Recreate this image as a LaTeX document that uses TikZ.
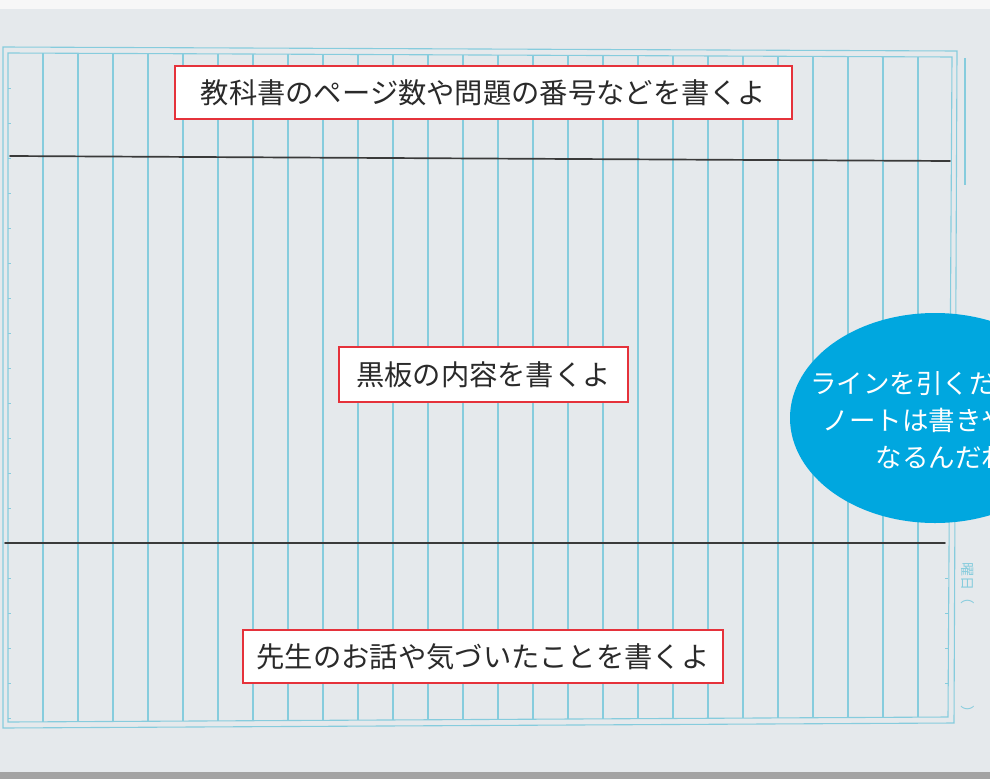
\documentclass[tikz,border=0pt]{standalone}
\usepackage{fontspec}
\newfontfamily\jp{Noto Sans CJK JP}
\definecolor{paper}{HTML}{E5E9EC}
\definecolor{topwhite}{HTML}{F7F7F7}
\definecolor{bottomgray}{HTML}{A3A3A3}
\definecolor{gridblue}{HTML}{86CCDD}
\definecolor{pencilgray}{HTML}{3A3A3A}
\definecolor{boxred}{HTML}{E5323B}
\definecolor{textdark}{HTML}{2A2A2A}
\definecolor{bubble}{HTML}{00A7DF}
\begin{document}
\begin{tikzpicture}[x=1pt,y=-1pt,
  grid/.style={draw=gridblue,line width=1.1pt},
  pencil/.style={draw=pencilgray,line width=1.7pt,line cap=round},
  labelbox/.style={draw=boxred,line width=1.4pt,fill=white,inner sep=0pt,text=textdark,
    font=\jp\fontsize{28.3}{32}\selectfont},
  smalltext/.style={text=gridblue,inner sep=0pt,rotate=-90,font=\jp\fontsize{14}{14}\selectfont}
]
\clip (0,0) rectangle (990,779);
\fill[paper] (0,0) rectangle (990,779);
\fill[topwhite] (0,0) rectangle (990,9);
\fill[bottomgray] (0,772) rectangle (990,779);

% frames
\draw[grid] (3,47) -- (957,51) -- (954,723) -- (3,728) -- cycle;
\draw[grid] (8,53) -- (952,57) -- (948,717) -- (8,722) -- cycle;
\draw[grid] (965,58) -- (965,185);

% vertical lines
\foreach \k in {0,...,25}{
  \pgfmathsetmacro{\xx}{43+35*\k}
  \pgfmathsetmacro{\yt}{53+4*(\xx-8)/944}
  \pgfmathsetmacro{\yb}{722-5*(\xx-8)/940}
  \draw[grid] (\xx,\yt) -- (\xx,\yb);
}

% small ticks on the frame
\foreach \k in {0,...,18}{
  \pgfmathsetmacro{\yy}{88+35*\k}
  \draw[gridblue,line width=0.8pt] (8,\yy) -- (11,\yy);
}
\foreach \k in {0,...,3}{
  \pgfmathsetmacro{\yy}{578+35*\k}
  \draw[gridblue,line width=0.8pt] (945,\yy) -- (948,\yy);
}

% pencil lines
\coordinate (p1a) at (10,156);
\coordinate (p1b) at (950,161);
\coordinate (p2a) at (5,543);
\coordinate (p2b) at (945,543);
\draw[pencil] (p1a) -- (p1b);
\draw[pencil] (p2a) -- (p2b);

% label boxes
\node[labelbox,minimum width=617pt,minimum height=53pt] (top) at (483.5,92.5)
  {教科書のページ数や問題の番号などを書くよ};
\node[labelbox,minimum width=289pt,minimum height=55pt] (mid) at (483.5,374.5)
  {黒板の内容を書くよ};
\node[labelbox,minimum width=480pt,minimum height=53pt] (bot) at (483,656.5)
  {先生のお話や気づいたことを書くよ};

% speech bubble
\fill[bubble] (935,418) ellipse [x radius=145, y radius=105];
\node[text=white,align=center,inner sep=0pt,
  font=\jp\fontsize{26.5}{37}\selectfont] (bubbletext) at (942,420)
  {ラインを引くだけで、\\ノートは書きやすく\\なるんだね};

% side text
\node[smalltext,anchor=west] (youbi) at (968,562) {曜日（};
\node[smalltext] (paren) at (968,712) {）};
\end{tikzpicture}
\end{document}
